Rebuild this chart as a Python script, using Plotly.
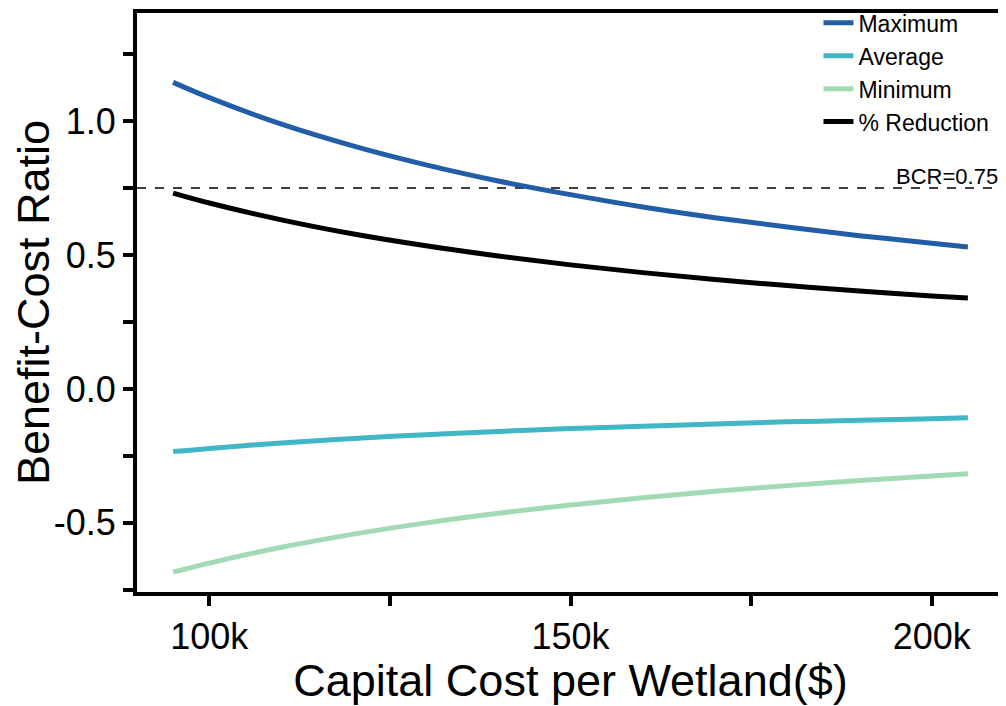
import plotly.graph_objects as go

capital_cost = [95000, 100000, 110000, 120000, 130000, 140000, 150000, 160000,
                170000, 180000, 190000, 200000, 205000]
maximum = [1.144, 1.087, 0.988, 0.906, 0.836, 0.776, 0.725, 0.679, 0.639, 0.604, 0.572, 0.544, 0.530]
average = [-0.234, -0.222, -0.202, -0.185, -0.171, -0.159, -0.148, -0.139, -0.131, -0.123, -0.117, -0.111, -0.108]
minimum = [-0.684, -0.650, -0.591, -0.542, -0.500, -0.464, -0.433, -0.406, -0.382, -0.361, -0.342, -0.325, -0.317]
reduction = [0.731, 0.694, 0.631, 0.578, 0.534, 0.496, 0.463, 0.434, 0.408, 0.386, 0.365, 0.347, 0.339]
series_names = ["Maximum", "Average", "Minimum", "% Reduction"]
series_colors = ["#225ea8", "#41b6c4", "#a1dab4", "#000000"]
bcr_threshold = 0.75
x_ticks = [100000, 150000, 200000]
x_ticklabels = ["100k", "150k", "200k"]
y_ticks = [-0.5, 0.0, 0.5, 1.0]
y_ticklabels = ["-0.5", "0.0", "0.5", "1.0"]

FONT = "Liberation Sans, Arial, sans-serif"

fig = go.Figure()
for name, vals, col in zip(series_names, [maximum, average, minimum, reduction], series_colors):
    fig.add_trace(go.Scatter(
        x=capital_cost, y=vals, name=name, mode="lines",
        line=dict(color=col, width=5, shape="spline"),
    ))

fig.add_shape(type="line", xref="paper", x0=0, x1=1, yref="y", y0=bcr_threshold, y1=bcr_threshold,
              line=dict(color="black", width=1.5, dash="dash"), layer="below")
fig.add_annotation(xref="paper", x=1.0, yref="y", y=bcr_threshold, text="BCR=0.75",
                   showarrow=False, xanchor="right", yanchor="bottom",
                   font=dict(family=FONT, size=22, color="black"), xshift=-4, yshift=-3)

# page body has an 8px margin, so the figure is shifted by 8px right and down
fig.update_layout(
    width=998, height=698,
    margin=dict(l=129, r=2, t=5, b=114, autoexpand=False),
    paper_bgcolor="white", plot_bgcolor="white",
    font=dict(family=FONT, color="black"),
    showlegend=True,
    legend=dict(x=0.989, y=1.02, xanchor="right", yanchor="top",
                font=dict(family=FONT, size=23, color="black"),
                bgcolor="rgba(0,0,0,0)", itemwidth=30, tracegroupgap=0),
)

fig.update_xaxes(
    range=[90000, 210000], automargin=False,
    tickvals=x_ticks, ticktext=x_ticklabels,
    ticks="outside", ticklen=10, tickwidth=4, tickcolor="black",
    tickfont=dict(family=FONT, size=36, color="black"),
    showline=True, linewidth=4, linecolor="black", mirror=True,
    showgrid=False, zeroline=False,
    minor=dict(tickvals=[125000, 175000], ticks="outside", ticklen=10, tickwidth=4, tickcolor="black", showgrid=False),
    title=dict(text="Capital Cost per Wetland($)", font=dict(family=FONT, size=45, color="black"), standoff=8),
)
fig.update_yaxes(
    range=[-0.758, 1.403], automargin=False,
    tickvals=y_ticks, ticktext=y_ticklabels,
    ticks="outside", ticklen=10, tickwidth=4, tickcolor="black",
    tickfont=dict(family=FONT, size=36, color="black"),
    showline=True, linewidth=4, linecolor="black", mirror=True,
    showgrid=False, zeroline=False,
    minor=dict(tickvals=[-0.75, -0.25, 0.25, 0.75, 1.25], ticks="outside", ticklen=10, tickwidth=4, tickcolor="black", showgrid=False),
    title=dict(text="Benefit-Cost Ratio", font=dict(family=FONT, size=45, color="black"), standoff=8),
)

fig.write_html("out.html")
